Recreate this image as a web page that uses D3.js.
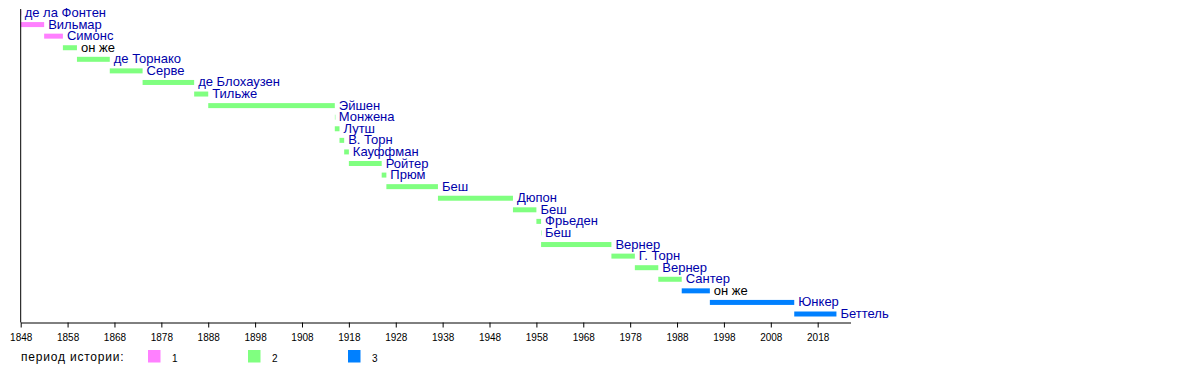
<!DOCTYPE html>
<html>
<head>
<meta charset="utf-8">
<script src="https://cdn.jsdelivr.net/npm/d3@7"></script>
<style>
  body { margin: 0; background: #fff; }
  svg { display: block; font-family: "Liberation Sans", Arial, sans-serif; }
</style>
</head>
<body>
<svg id="chart" width="1200" height="372"></svg>
<script>
// премьер-министры, по строкам сверху вниз
const names = [
  "де ла Фонтен", "Вильмар", "Симонс", "он же", "де Торнако", "Серве",
  "де Блохаузен", "Тильже", "Эйшен", "Монжена", "Лутш", "В. Торн",
  "Кауффман", "Ройтер", "Прюм", "Беш", "Дюпон", "Беш", "Фрьеден", "Беш",
  "Вернер", "Г. Торн", "Вернер", "Сантер", "он же", "Юнкер", "Беттель",
];
const starts = [
  1848, 1848, 1853, 1857, 1860, 1867, 1874, 1885, 1888, 1915, 1915, 1916,
  1917, 1918, 1925, 1926, 1937, 1953, 1958, 1959, 1959, 1974, 1979, 1984,
  1989, 1995, 2013,
];
const ends = [
  1848, 1853, 1857, 1860, 1867, 1874, 1885, 1888, 1915, 1915, 1916, 1917,
  1918, 1925, 1926, 1937, 1953, 1958, 1959, 1959, 1974, 1979, 1984, 1989,
  1995, 2013, 2022,
];
const periods = [
  1, 1, 1, 2, 2, 2, 2, 2, 2, 2, 2, 2, 2, 2, 2, 2, 2, 2, 2, 2, 2, 2, 2, 2,
  3, 3, 3,
];
// "он же" is plain text, the others are links
const linked = names.map((n) => n !== "он же");

const periodKeys = [1, 2, 3];
const periodColors = ["#ff80ff", "#80ff80", "#0080ff"];
const tickYears = d3.range(1848, 2025, 10);
const legendTitle = "период истории:";

const svg = d3.select("#chart");

const x = d3.scaleLinear().domain([1848, 2025]).range([20.7, 850.5]);
const y = d3
  .scalePoint()
  .domain(d3.range(names.length))
  .range([13, 314]);
const color = d3.scaleOrdinal().domain(periodKeys).range(periodColors);

const rows = names.map((name, i) => ({
  name,
  start: starts[i],
  end: ends[i],
  period: periods[i],
  linked: linked[i],
  i,
}));

const barH = 5;

svg
  .append("g")
  .selectAll("rect")
  .data(rows)
  .join("rect")
  .attr("x", (d) => x(d.start))
  .attr("y", (d) => y(d.i) - barH / 2)
  .attr("width", (d) => Math.max(x(d.end) - x(d.start), 0.8))
  .attr("height", barH)
  .attr("fill", (d) => color(d.period))
  .attr("opacity", (d) => (d.end === d.start ? 0.6 : 1));

svg
  .append("g")
  .selectAll("text")
  .data(rows)
  .join("text")
  .attr("x", (d) => x(d.end) + 4)
  .attr("y", (d) => y(d.i) + 4)
  .attr("font-size", 13)
  .attr("fill", (d) => (d.linked ? "#0000aa" : "#000"))
  .text((d) => d.name);

// axis
const axis = svg
  .append("g")
  .attr("transform", "translate(0,322.5)")
  .call(
    d3
      .axisBottom(x)
      .tickValues(tickYears)
      .tickFormat(d3.format("d"))
      .tickSize(5)
      .tickSizeOuter(0)
  );
axis.select(".domain").attr("stroke", "#000");
axis.selectAll(".tick line").attr("stroke", "#000");
axis
  .selectAll(".tick text")
  .attr("font-family", "Liberation Sans, Arial, sans-serif")
  .attr("font-size", 10)
  .attr("fill", "#000")
  .attr("dy", null)
  .attr("y", 18.5);

svg
  .append("line")
  .attr("x1", x(1848))
  .attr("x2", x(1848))
  .attr("y1", 9)
  .attr("y2", 322.5)
  .attr("stroke", "#000");

// legend
svg
  .append("text")
  .attr("x", 21)
  .attr("y", 361)
  .attr("font-size", 12)
  .attr("letter-spacing", 0.8)
  .attr("fill", "#000")
  .text(legendTitle);

const legend = svg
  .append("g")
  .selectAll("g")
  .data(periodKeys)
  .join("g")
  .attr("transform", (d, i) => `translate(${148 + i * 100},350)`);

legend
  .append("rect")
  .attr("width", 12.5)
  .attr("height", 12.5)
  .attr("fill", (d) => color(d));

legend
  .append("text")
  .attr("x", 24)
  .attr("y", 12)
  .attr("font-size", 10)
  .attr("fill", "#000")
  .text((d) => d);
</script>
</body>
</html>
